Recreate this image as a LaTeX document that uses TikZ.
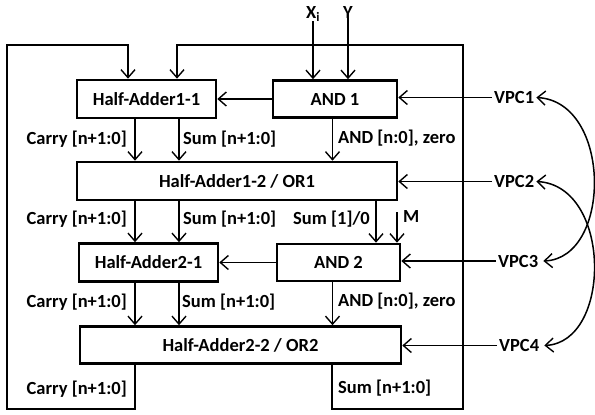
\documentclass[tikz,border=0pt]{standalone}
\usepackage{fontspec}
\setmainfont{Carlito}
\usetikzlibrary{arrows.meta}
\begin{document}
\begin{tikzpicture}[x=1pt,y=-1pt,
  txt/.style={font=\fontsize{18.5}{20}\selectfont\bfseries},
  box/.style={txt, draw, line width=2.6pt, inner sep=0pt},
  lbl/.style={txt, inner sep=0pt},
  ln/.style={line width=1.5pt},
  tip/.tip={Straight Barb[length=8pt,width=14pt,line width=1.4pt]},
  arr/.style={ln, -tip},
  dbl/.style={ln, tip-tip}]
\useasboundingbox (0,0) rectangle (595,415);

% boxes
\node[box, minimum width=139pt, minimum height=38pt] (ha11) at (146.5,99) {Half-Adder1-1};
\node[box, minimum width=124pt, minimum height=37pt] (and1) at (335,99) {AND 1};
\node[box, minimum width=320pt, minimum height=38pt] (ha12) at (237,181) {Half-Adder1-2 / OR1};
\node[box, minimum width=139pt, minimum height=38pt] (ha21) at (148.5,262.5) {Half-Adder2-1};
\node[box, minimum width=123pt, minimum height=37pt] (and2) at (338.5,262.5) {AND 2};
\node[box, minimum width=321pt, minimum height=37pt] (ha22) at (240.5,345) {Half-Adder2-2 / OR2};

% column coordinates
\coordinate (cA) at (135,0);
\coordinate (cB) at (179,0);
\coordinate (cN) at (332.5,0);
\coordinate (cS) at (376,0);
\coordinate (cX) at (313,0);

% inputs
\node[lbl, anchor=base west] (xi) at (306,18) {X\textsubscript{i}};
\node[lbl, anchor=base] (yin) at (348,18) {Y};
\draw[arr] (xi.south -| cX) -- (and1.north -| cX);
\draw[arr] (yin.south) -- (and1.north -| yin.south);

% AND -> Half adder
\draw[arr] (and1.west) -- (ha11.east);
\draw[arr] (and2.west) -- (ha21.east);

% row 1 -> row 2
\draw[arr] (ha11.south -| cA) -- (ha12.north -| cA);
\draw[arr] (ha11.south -| cB) -- (ha12.north -| cB);
\draw[arr] (and1.south -| cN) -- (ha12.north -| cN);
\node[lbl, anchor=east] (l1c) at (127,139) {Carry [n+1:0]};
\node[lbl, anchor=west] (l1s) at (183,139) {Sum [n+1:0]};
\node[lbl, anchor=west] (l1a) at (338,138) {AND [n:0], zero};

% row 2 -> row 3
\draw[arr] (ha12.south -| cA) -- (ha21.north -| cA);
\draw[arr] (ha12.south -| cB) -- (ha21.north -| cB);
\draw[arr] (ha12.south -| cS) -- (and2.north -| cS);
\coordinate (mtop) at (397,212);
\draw[arr] (mtop) -- (and2.north -| mtop);
\node[lbl, anchor=east] (l2c) at (127,219) {Carry [n+1:0]};
\node[lbl, anchor=west] (l2s) at (183,219) {Sum [n+1:0]};
\node[lbl, anchor=west] (l2a) at (293,219) {Sum [1]/0};
\node[lbl, anchor=west] (m) at (403,216) {M};

% row 3 -> row 4
\draw[arr] (ha21.south -| cA) -- (ha22.north -| cA);
\draw[arr] (ha21.south -| cB) -- (ha22.north -| cB);
\draw[arr] (and2.south -| cN) -- (ha22.north -| cN);
\node[lbl, anchor=east] (l3c) at (127,302) {Carry [n+1:0]};
\node[lbl, anchor=west] (l3s) at (182,302) {Sum [n+1:0]};
\node[lbl, anchor=west] (l3a) at (338,301) {AND [n:0], zero};

% feedback loops
\coordinate (L1) at (135,409);
\coordinate (L2) at (7,409);
\coordinate (L3) at (7,45);
\coordinate (L4) at (128,45);
\draw[arr] (ha22.south -| L1) -- (L1) -- (L2) -- (L3) -- (L4) -- (ha11.north -| L4);
\coordinate (R1) at (332,409);
\coordinate (R2) at (463,409);
\coordinate (R3) at (463,45);
\coordinate (R4) at (177,45);
\draw[arr] (ha22.south -| R1) -- (R1) -- (R2) -- (R3) -- (R4) -- (ha11.north -| R4);
\node[lbl, anchor=east] (l4c) at (127,389) {Carry [n+1:0]};
\node[lbl, anchor=west] (l4s) at (338,388) {Sum [n+1:0]};

% VPC
\node[lbl, inner sep=2pt, anchor=west] (vpc1) at (492,97.5) {VPC1};
\node[lbl, inner sep=2pt, anchor=west] (vpc2) at (492,181.5) {VPC2};
\node[lbl, inner sep=2pt, anchor=west] (vpc3) at (496,261) {VPC3};
\node[lbl, inner sep=2pt, anchor=west] (vpc4) at (497,345.5) {VPC4};
\draw[arr] (vpc1.west) -- (and1.east |- vpc1.west);
\draw[arr] (vpc2.west) -- (ha12.east |- vpc2.west);
\draw[arr] (vpc3.west) -- (and2.east |- vpc3.west);
\draw[arr] (vpc4.west) -- (ha22.east |- vpc4.west);
\draw[dbl] (vpc1.east) .. controls (612,102) and (612,258) .. ([xshift=3pt]vpc3.east);
\draw[dbl] (vpc2.east) .. controls (612,186) and (612,342) .. ([xshift=3pt]vpc4.east);
\end{tikzpicture}
\end{document}
